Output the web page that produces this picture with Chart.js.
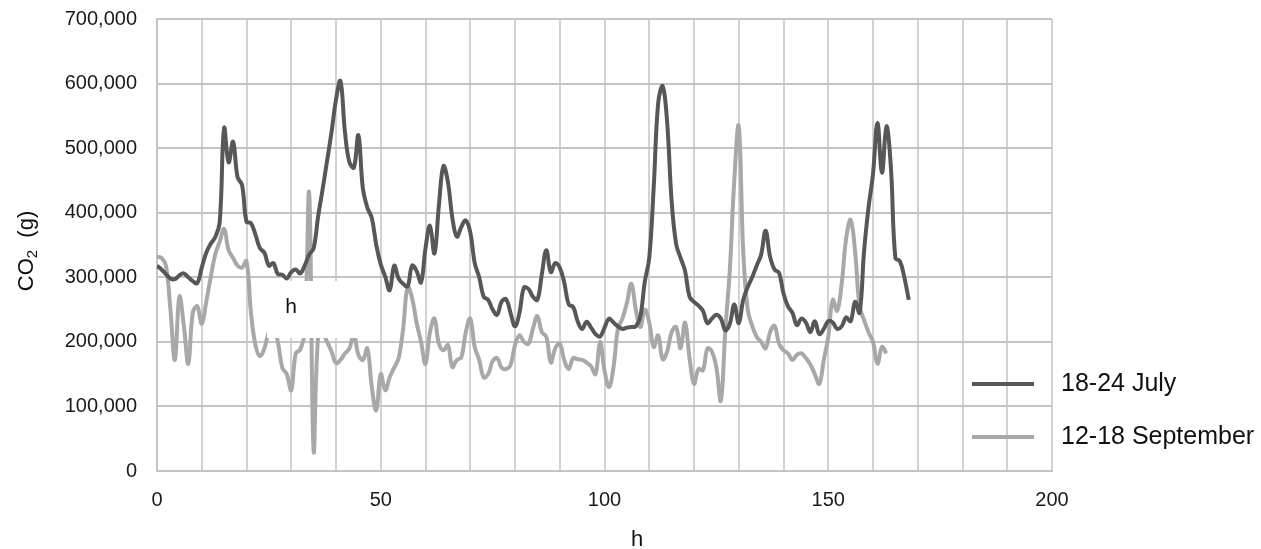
<!DOCTYPE html>
<html>
<head>
<meta charset="utf-8">
<script src="https://cdn.jsdelivr.net/npm/chart.js@4"></script>
<style>
  body { margin: 0; background: #fff; }
  #wrap { width: 1261px; height: 549px; position: relative; }
</style>
</head>
<body>
<div id="wrap"><canvas id="co2Chart"></canvas></div>
<script>
// hourly CO2 (g)
const seriesLabels = ['18-24 July', '12-18 September'];

const julyValues = [
  318000, 312000, 305000, 298000, 297000, 303000, 306000, 300000, 294000, 291000,
  315000, 338000, 352000, 362000, 385000, 531000, 478000, 510000, 455000, 443000,
  386000, 384000, 366000, 345000, 338000, 318000, 322000, 305000, 304000, 298000,
  308000, 312000, 306000, 318000, 335000, 345000, 394000, 436000, 480000, 525000,
  575000, 604000, 525000, 478000, 470000, 520000, 438000, 408000, 392000, 350000,
  320000, 301000, 280000, 318000, 298000, 290000, 286000, 318000, 310000, 292000,
  345000, 380000, 337000, 412000, 472000, 448000, 392000, 363000, 378000, 388000,
  370000, 322000, 300000, 270000, 265000, 250000, 242000, 262000, 266000, 245000,
  224000, 245000, 284000, 282000, 270000, 265000, 305000, 342000, 308000, 322000,
  315000, 292000, 258000, 254000, 232000, 220000, 231000, 222000, 212000, 208000,
  222000, 236000, 230000, 224000, 220000, 222000, 223000, 224000, 239000, 293000,
  330000, 440000, 570000, 596000, 540000, 418000, 352000, 330000, 310000, 270000,
  262000, 256000, 248000, 229000, 236000, 242000, 236000, 218000, 228000, 258000,
  229000, 265000, 285000, 300000, 318000, 335000, 372000, 332000, 312000, 307000,
  275000, 255000, 245000, 226000, 236000, 230000, 215000, 232000, 212000, 220000,
  232000, 230000, 220000, 224000, 238000, 232000, 262000, 245000, 340000, 408000,
  460000, 539000, 462000, 534000, 470000, 330000, 325000, 300000, 265000
];

const septValues = [
  332000, 330000, 318000, 250000, 172000, 270000, 225000, 166000, 245000, 255000,
  228000, 262000, 300000, 335000, 355000, 375000, 342000, 330000, 318000, 315000,
  325000, 245000, 195000, 178000, 190000, 215000, 222000, 200000, 160000, 150000,
  125000, 182000, 188000, 215000, 430000, 32000, 208000, 213000, 200000, 185000,
  167000, 172000, 182000, 190000, 212000, 180000, 172000, 190000, 130000, 94000,
  150000, 125000, 145000, 160000, 175000, 220000, 285000, 268000, 230000, 200000,
  166000, 215000, 236000, 197000, 187000, 195000, 161000, 172000, 176000, 215000,
  236000, 192000, 172000, 145000, 150000, 170000, 175000, 160000, 158000, 164000,
  195000, 210000, 200000, 197000, 220000, 240000, 215000, 208000, 168000, 190000,
  197000, 172000, 158000, 175000, 173000, 172000, 168000, 162000, 150000, 200000,
  156000, 130000, 160000, 220000, 236000, 260000, 290000, 250000, 223000, 250000,
  230000, 192000, 210000, 173000, 185000, 215000, 223000, 190000, 230000, 175000,
  135000, 158000, 156000, 190000, 185000, 160000, 109000, 218000, 311000, 450000,
  534000, 340000, 250000, 225000, 208000, 200000, 190000, 215000, 225000, 197000,
  187000, 182000, 172000, 180000, 182000, 175000, 165000, 150000, 135000, 172000,
  208000, 265000, 248000, 290000, 360000, 389000, 340000, 255000, 234000, 215000,
  200000, 166000, 192000, 182000
];

const seriesColors = ['#575757', '#a8a8a8'];

// axis settings
const xMax = 200;
const yMax = 700000;

const FONT = '"Liberation Sans", Arial, sans-serif';

function toPoints(values) {
  return values.map((v, i) => ({ x: i, y: v }));
}

// axis titles, stray label box and legend are painted by hand
const extrasPlugin = {
  id: 'extras',
  afterDatasetsDraw(chart) {
    const ctx = chart.ctx;
    ctx.save();
    // white box with a stray "h" sitting on top of the lines
    ctx.fillStyle = '#ffffff';
    ctx.fillRect(267, 281, 90, 57);
    ctx.fillStyle = '#111';
    ctx.font = '21px ' + FONT;
    ctx.textAlign = 'center';
    ctx.textBaseline = 'middle';
    ctx.fillText('h', 291, 307);
    ctx.restore();
  },
  afterDraw(chart) {
    const ctx = chart.ctx;
    ctx.save();
    ctx.fillStyle = '#111';
    ctx.font = '22px ' + FONT;
    ctx.textBaseline = 'middle';

    // x title
    ctx.textAlign = 'center';
    ctx.fillText('h', 637, 540);

    // y title, rotated
    ctx.translate(27, 251);
    ctx.rotate(-Math.PI / 2);
    ctx.textAlign = 'left';
    const w1 = ctx.measureText('CO').width;
    ctx.font = '15px ' + FONT;
    const w2 = ctx.measureText('2').width;
    ctx.font = '22px ' + FONT;
    const w3 = ctx.measureText('  (g)').width;
    const x0 = -(w1 + w2 + w3) / 2;
    ctx.fillText('CO', x0, 0);
    ctx.font = '15px ' + FONT;
    ctx.fillText('2', x0 + w1, 6);
    ctx.font = '22px ' + FONT;
    ctx.fillText('  (g)', x0 + w1 + w2, 0);
    ctx.restore();

    // legend
    ctx.save();
    ctx.font = '25px ' + FONT;
    ctx.textBaseline = 'middle';
    ctx.textAlign = 'left';
    chart.data.datasets.forEach((ds, i) => {
      const y = 384 + i * 53;
      ctx.strokeStyle = ds.borderColor;
      ctx.lineWidth = 4;
      ctx.beginPath();
      ctx.moveTo(972, y);
      ctx.lineTo(1034, y);
      ctx.stroke();
      ctx.fillStyle = '#111';
      ctx.fillText(ds.label, 1061, y);
    });
    ctx.restore();
  }
};

document.addEventListener('DOMContentLoaded', function () {
  const ctx = document.getElementById('co2Chart').getContext('2d');
  new Chart(ctx, {
    type: 'line',
    data: {
      datasets: [
        {
          label: seriesLabels[0],
          data: toPoints(julyValues),
          borderColor: seriesColors[0],
          borderWidth: 4,
          pointRadius: 0,
          tension: 0.4,
          fill: false
        },
        {
          label: seriesLabels[1],
          data: toPoints(septValues),
          borderColor: seriesColors[1],
          borderWidth: 4,
          pointRadius: 0,
          tension: 0.4,
          fill: false
        }
      ]
    },
    options: {
      responsive: true,
      maintainAspectRatio: false,
      animation: false,
      layout: {
        padding: { left: 0, top: 19, right: 209, bottom: 0 }
      },
      plugins: {
        legend: { display: false },
        tooltip: { enabled: false }
      },
      scales: {
        x: {
          type: 'linear',
          min: 0,
          max: xMax,
          afterFit: function (scale) { scale.height = 78; },
          grid: { color: '#d2d2d2', lineWidth: 2, drawTicks: false },
          border: { color: '#c4c4c4', width: 2 },
          ticks: {
            stepSize: 10,
            autoSkip: false,
            maxRotation: 0,
            padding: 17,
            color: '#1a1a1a',
            font: { family: FONT, size: 20 },
            callback: function (value) {
              return value % 50 === 0 ? String(value) : '';
            }
          }
        },
        y: {
          min: 0,
          max: yMax,
          afterFit: function (scale) { scale.width = 157; },
          // invisible tick marks keep the labels 20px off the axis
          grid: { color: '#c4c4c4', lineWidth: 2, drawTicks: true, tickLength: 20, tickColor: 'rgba(0,0,0,0)' },
          border: { color: '#c4c4c4', width: 2 },
          ticks: {
            stepSize: 100000,
            padding: 0,
            color: '#1a1a1a',
            font: { family: FONT, size: 20 },
            callback: function (value) {
              return value.toLocaleString('en-US');
            }
          }
        }
      }
    },
    plugins: [extrasPlugin]
  });
});
</script>
</body>
</html>
